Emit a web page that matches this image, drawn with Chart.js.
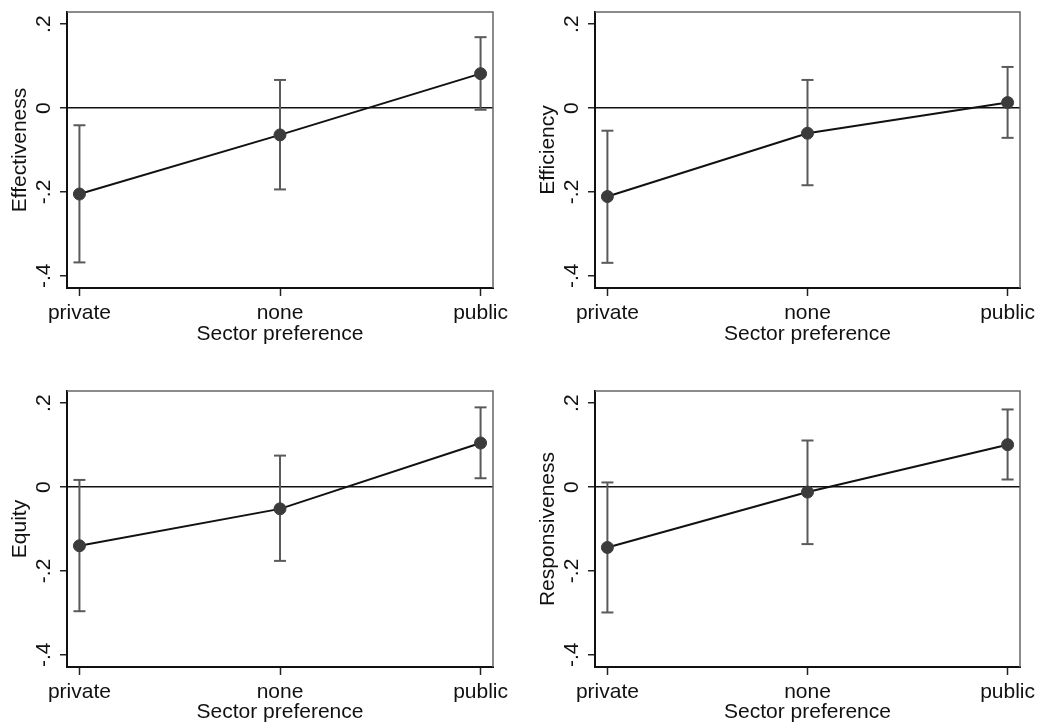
<!DOCTYPE html>
<html>
<head>
<meta charset="utf-8">
<script src="https://cdn.jsdelivr.net/npm/chart.js@4/dist/chart.umd.min.js"></script>
<style>
  html, body { margin: 0; padding: 0; background: #fff; }
  body { width: 1037px; height: 725px; position: relative; overflow: hidden; }
  canvas { position: absolute; }
</style>
</head>
<body>
<canvas id="c1" width="517" height="347" style="left:0;top:0;"></canvas>
<canvas id="c2" width="509" height="347" style="left:528px;top:0;"></canvas>
<canvas id="c3" width="517" height="346" style="left:0;top:379px;"></canvas>
<canvas id="c4" width="509" height="346" style="left:528px;top:379px;"></canvas>
<script>
// ---- data ----
const categories = ['private', 'none', 'public'];
const yTickValues = [-0.4, -0.2, 0, 0.2];
const xTitle = 'Sector preference';

const effectivenessEst = [-0.205, -0.064, 0.082];
const effectivenessLo  = [-0.368, -0.194, -0.004];
const effectivenessHi  = [-0.041,  0.067,  0.169];

const efficiencyEst = [-0.211, -0.060, 0.013];
const efficiencyLo  = [-0.369, -0.184, -0.071];
const efficiencyHi  = [-0.054,  0.067,  0.098];

const equityEst = [-0.140, -0.052, 0.105];
const equityLo  = [-0.296, -0.176, 0.021];
const equityHi  = [ 0.017,  0.075, 0.190];

const responsivenessEst = [-0.144, -0.012, 0.101];
const responsivenessLo  = [-0.299, -0.136, 0.018];
const responsivenessHi  = [ 0.011,  0.111, 0.185];

// ---- styling ----
const FONT = { family: '"Liberation Sans", Arial, Helvetica, sans-serif', size: 21 };
const TEXT = '#111';

const framePlugin = {
  id: 'frame',
  afterDatasetsDraw(chart) {
    const { ctx, chartArea: a } = chart;
    ctx.save();
    ctx.strokeStyle = '#666';
    ctx.lineWidth = 1.5;
    ctx.beginPath();
    ctx.moveTo(a.left, a.top);
    ctx.lineTo(a.right, a.top);
    ctx.lineTo(a.right, a.bottom);
    ctx.stroke();
    ctx.restore();
  }
};

function fmtY(v) {
  if (Math.abs(v) < 1e-9) return '0';
  const s = Math.abs(v).toFixed(1).replace(/^0/, '');
  return (v < 0 ? '-' : '') + s;
}

function makePanel(id, yTitle, est, lo, hi, padRight, xAxisHeight) {
  const ciData = [];
  const capData = [];
  categories.forEach((c, i) => {
    ciData.push({ x: i, y: lo[i] }, { x: i, y: hi[i] }, { x: i, y: null });
    capData.push({ x: i, y: lo[i] }, { x: i, y: hi[i] });
  });
  const estData = categories.map((c, i) => ({ x: i, y: est[i] }));

  new Chart(document.getElementById(id), {
    type: 'line',
    data: {
      datasets: [
        {
          data: ciData, borderColor: '#5a5a5a', borderWidth: 2,
          pointRadius: 0, spanGaps: false, tension: 0, order: 3
        },
        {
          data: capData, showLine: false, pointStyle: 'line', pointRadius: 6,
          pointBorderColor: '#5a5a5a', pointBorderWidth: 2, order: 2
        },
        {
          data: estData, borderColor: '#111', borderWidth: 2, tension: 0,
          pointRadius: 6, pointBackgroundColor: '#3b3b3b', pointBorderColor: '#3b3b3b',
          pointBorderWidth: 1, order: 1
        }
      ]
    },
    options: {
      responsive: false,
      animation: false,
      events: [],
      layout: { padding: { top: 12, right: padRight, left: 0, bottom: 0 } },
      plugins: { legend: { display: false }, tooltip: { enabled: false } },
      scales: {
        x: {
          type: 'linear', min: -0.062, max: 2.062,
          afterBuildTicks: s => { s.ticks = categories.map((c, i) => ({ value: i })); },
          afterFit: s => { s.height = xAxisHeight; s.paddingLeft = 0; s.paddingRight = 0; },
          ticks: {
            callback: v => categories[v], autoSkip: false, maxRotation: 0, minRotation: 0,
            font: FONT, color: TEXT, padding: 5
          },
          grid: { drawOnChartArea: false, tickLength: 8, tickColor: '#222', tickWidth: 1.5 },
          border: { display: true, color: '#111', width: 2 },
          title: { display: true, text: xTitle, font: FONT, color: TEXT, padding: { top: 0, bottom: 0 } }
        },
        y: {
          type: 'linear', min: -0.429, max: 0.229,
          afterBuildTicks: s => { s.ticks = yTickValues.map(v => ({ value: v })); },
          afterFit: s => { s.width = 67; s.paddingTop = 0; s.paddingBottom = 0; },
          ticks: {
            callback: v => fmtY(v), minRotation: 90, maxRotation: 90, crossAlign: 'center',
            font: FONT, color: TEXT, padding: 4
          },
          grid: {
            color: c => (c.tick && Math.abs(c.tick.value) < 1e-9) ? '#111' : 'rgba(0,0,0,0)',
            lineWidth: 1.5, tickLength: 7, tickColor: '#222', tickWidth: 1.5
          },
          border: { display: true, color: '#111', width: 2 },
          title: { display: true, text: yTitle, font: FONT, color: TEXT, padding: { top: 8, bottom: 0 } }
        }
      }
    },
    plugins: [framePlugin]
  });
}

makePanel('c1', 'Effectiveness', effectivenessEst, effectivenessLo, effectivenessHi, 24, 59);
makePanel('c2', 'Efficiency', efficiencyEst, efficiencyLo, efficiencyHi, 17, 59);
makePanel('c3', 'Equity', equityEst, equityLo, equityHi, 24, 58);
makePanel('c4', 'Responsiveness', responsivenessEst, responsivenessLo, responsivenessHi, 17, 58);
</script>
</body>
</html>
